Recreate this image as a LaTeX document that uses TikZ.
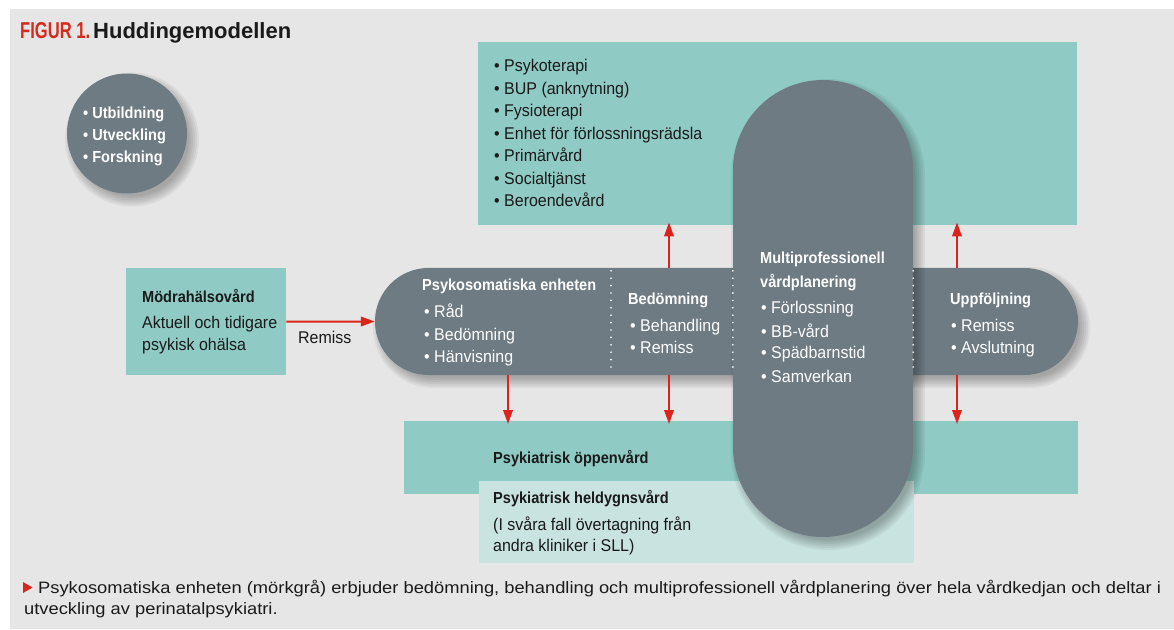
\documentclass[tikz,border=0pt]{standalone}
\usepackage{fontspec}
\setmainfont{Liberation Sans}[FakeStretch=1.11]
\newfontfamily\dfont{Liberation Sans}[FakeStretch=0.94]
\newfontfamily\dbfont{Liberation Sans}[FakeStretch=0.91]
\newfontfamily\tfont{Liberation Sans}
\newfontfamily\cfont{Liberation Sans}[FakeStretch=0.72]
\usetikzlibrary{arrows.meta}
\definecolor{bggray}{HTML}{E6E6E6}
\definecolor{tealA}{HTML}{8FCAC4}
\definecolor{tealB}{HTML}{C9E3E0}
\definecolor{pillgray}{HTML}{6E7B83}
\definecolor{arrred}{HTML}{D9251C}
\definecolor{titlered}{HTML}{D52B1E}
\definecolor{txt}{HTML}{1A1A1A}
% soft shadow: center x, center y, width, height, corner radius
\newcommand{\softshadow}[5]{%
  \foreach \d [evaluate=\d as \rr using #5+\d-3] in {0,2,4,6,8,10}{%
    \fill[black, opacity=0.05, rounded corners=\rr pt]
      (#1-#3/2+8-\d, #2-#4/2+9-\d) rectangle (#1+#3/2+2+\d, #2+#4/2+3+\d);
  }%
}
\begin{document}
\begin{tikzpicture}[x=1pt,y=-1pt,
  box/.style={draw=none, inner sep=0, anchor=north west},
  pill/.style={fill=pillgray, inner sep=0},
  wr/.style={anchor=base west, inner sep=0, text=white, font=\dfont\fontsize{17}{20}\selectfont},
  wb/.style={anchor=base west, inner sep=0, text=white, font=\dbfont\bfseries\fontsize{16}{19}\selectfont},
  dr/.style={anchor=base west, inner sep=0, text=txt, font=\dfont\fontsize{17}{20}\selectfont},
  db/.style={anchor=base west, inner sep=0, text=txt, font=\dbfont\bfseries\fontsize{16}{19}\selectfont},
  arr/.style={draw=arrred, line width=2pt, -{Triangle[length=14pt,width=9.5pt,fill=arrred]}},
  sepline/.style={draw=white, line width=1.9pt, line cap=round, dash pattern=on 0pt off 7.4pt, shorten <=3pt, shorten >=3pt}
]
\fill[white] (0,0) rectangle (1174,629);
\fill[bggray] (10,9) rectangle (1174,629);
\useasboundingbox (0,0) rectangle (1174,629);

% title
\node[anchor=base west, inner sep=0, text=titlered, font=\cfont\bfseries\fontsize{23}{26}\selectfont] (fig) at (20,38) {FIGUR 1.};
\node[anchor=base west, inner sep=0, text=txt, font=\tfont\bfseries\fontsize{22}{26}\selectfont] (title) at (93,38) {Huddingemodellen};

% boxes
\node[box, fill=tealA, minimum width=599pt, minimum height=183pt] (topbox) at (478,42) {};
\node[box, fill=tealA, minimum width=674pt, minimum height=73pt] (oppen) at (404,421) {};
\node[box, fill=tealB, minimum width=435pt, minimum height=82pt] (heldygn) at (479,481) {};
\node[box, fill=tealA, minimum width=160pt, minimum height=107pt] (mvc) at (126,268) {};

% pills with soft shadows
\softshadow{127}{133.5}{120}{120}{60}
\node[pill, circle, minimum size=120pt] (circ) at (127,133.5) {};
\softshadow{726.5}{321.5}{703}{107}{53.5}
\node[pill, rectangle, rounded corners=53.5pt, minimum width=703pt, minimum height=107pt] (hpill) at (726.5,321.5) {};
\softshadow{823}{308.5}{180}{457}{90}
\node[pill, rectangle, rounded corners=90pt, minimum width=180pt, minimum height=457pt] (vpill) at (823,308.5) {};

% separators
\coordinate (s1) at (611,0);
\draw[sepline] (s1 |- hpill.north) -- (s1 |- hpill.south);
\draw[sepline] (vpill.west |- hpill.north) -- (vpill.west |- hpill.south);
\draw[sepline] (vpill.east |- hpill.north) -- (vpill.east |- hpill.south);

% arrows
\coordinate (xa) at (508,0);
\coordinate (xb) at (669,0);
\coordinate (xc) at (957,0);
\draw[arr] (mvc.east) -- (hpill.west);
\draw[arr, shorten >=-3pt] (xb |- hpill.north) -- (xb |- topbox.south);
\draw[arr, shorten >=-3pt] (xc |- hpill.north) -- (xc |- topbox.south);
\draw[arr, shorten >=-3pt] (xa |- hpill.south) -- (xa |- oppen.north);
\draw[arr, shorten >=-3pt] (xb |- hpill.south) -- (xb |- oppen.north);
\draw[arr, shorten >=-3pt] (xc |- hpill.south) -- (xc |- oppen.north);
\node[dr] (remiss) at (298,343) {Remiss};

% circle text
\node[wb] (c1) at (83,118) {• Utbildning};
\node[wb] (c2) at (83,140) {• Utveckling};
\node[wb] (c3) at (83,162) {• Forskning};

% top box text
\node[dr] (t1) at (494,71.7) {• Psykoterapi};
\node[dr] (t2) at (494,94) {• BUP (anknytning)};
\node[dr] (t3) at (494,116.7) {• Fysioterapi};
\node[dr] (t4) at (494,139.3) {• Enhet för förlossningsrädsla};
\node[dr] (t5) at (494,161.7) {• Primärvård};
\node[dr] (t6) at (494,184) {• Socialtjänst};
\node[dr] (t7) at (494,206.7) {• Beroendevård};

% left box text
\node[db] (m1) at (142,302) {Mödrahälsovård};
\node[dr] (m2) at (142,328) {Aktuell och tidigare};
\node[dr] (m3) at (142,350) {psykisk ohälsa};

% horizontal pill text
\node[wb] (p0) at (422,290) {Psykosomatiska enheten};
\node[wr] (p1) at (424,317) {• Råd};
\node[wr] (p2) at (424,340) {• Bedömning};
\node[wr] (p3) at (424,362) {• Hänvisning};

\node[wb] (b0) at (628,304) {Bedömning};
\node[wr] (b1) at (630,331) {• Behandling};
\node[wr] (b2) at (630,353) {• Remiss};

\node[wb] (v0) at (760,263) {Multiprofessionell};
\node[wb] (v1) at (760,287) {vårdplanering};
\node[wr] (v2) at (761,313) {• Förlossning};
\node[wr] (v3) at (761,337) {• BB-vård};
\node[wr] (v4) at (761,358.5) {• Spädbarnstid};
\node[wr] (v5) at (761,382) {• Samverkan};

\node[wb] (u0) at (950,304) {Uppföljning};
\node[wr] (u1) at (951,331) {• Remiss};
\node[wr] (u2) at (951,353) {• Avslutning};

% bottom text
\node[db] (o1) at (493,463.3) {Psykiatrisk öppenvård};
\node[db] (h1) at (493,503.3) {Psykiatrisk heldygnsvård};
\node[dr] (h2) at (493,530) {(I svåra fall övertagning från};
\node[dr] (h3) at (493,551.7) {andra kliniker i SLL)};

% caption
\fill[arrred] (23,582) -- (23,593) -- (32.5,587.5) -- cycle;
\node[anchor=base west, inner sep=0, text=txt, font=\fontsize{16.5}{20}\selectfont] (cap1) at (38,593) {Psykosomatiska enheten (mörkgrå) erbjuder bedömning, behandling och multiprofessionell vårdplanering över hela vårdkedjan och deltar i};
\node[anchor=base west, inner sep=0, text=txt, font=\fontsize{16.5}{20}\selectfont] (cap2) at (24,614) {utveckling av perinatalpsykiatri.};
\end{tikzpicture}
\end{document}
